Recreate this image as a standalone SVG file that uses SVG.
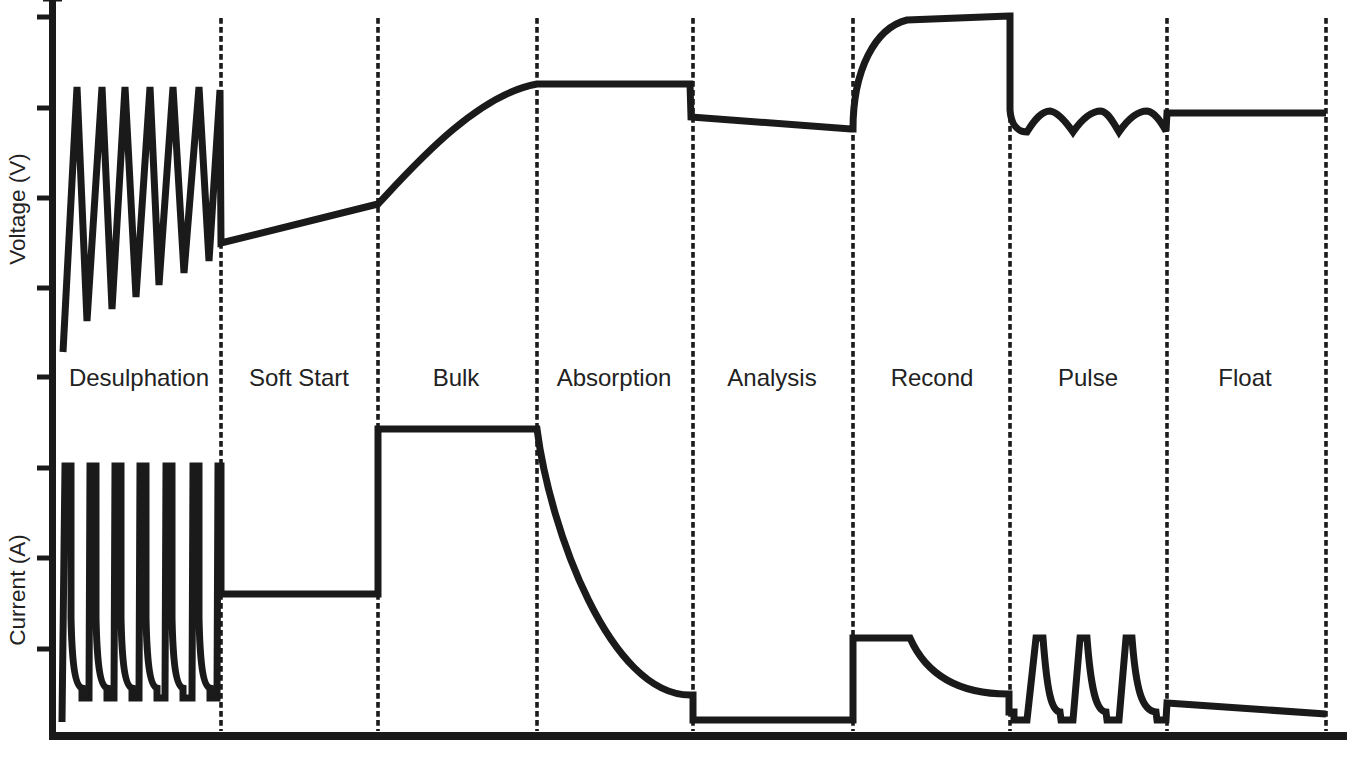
<svg xmlns="http://www.w3.org/2000/svg" width="1347" height="759" viewBox="0 0 1347 759">
<style>
.axis{stroke:#1a1a1a;fill:none}
.tick{stroke:#1a1a1a;stroke-width:5}
.div{stroke:#1a1a1a;stroke-width:3.6;stroke-dasharray:5.7 3.3;fill:none}
.curve{stroke:#1a1a1a;stroke-width:7;fill:none;stroke-linejoin:miter;stroke-miterlimit:2}
.lbl{font-family:"Liberation Sans",Arial,sans-serif;font-size:24px;fill:#222;text-anchor:middle}
.ylbl{font-family:"Liberation Sans",Arial,sans-serif;font-size:22.5px;fill:#222;text-anchor:middle}
</style>
<rect width="1347" height="759" fill="#ffffff"/>
<g id="dividers">
<line class="div" x1="221" y1="18" x2="221" y2="731"/>
<line class="div" x1="378" y1="18" x2="378" y2="731"/>
<line class="div" x1="537" y1="18" x2="537" y2="731"/>
<line class="div" x1="693" y1="18" x2="693" y2="731"/>
<line class="div" x1="853" y1="18" x2="853" y2="731"/>
<line class="div" x1="1010" y1="18" x2="1010" y2="731"/>
<line class="div" x1="1167" y1="18" x2="1167" y2="731"/>
<line class="div" x1="1326" y1="18" x2="1326" y2="731"/>
</g>
<g id="axes">
<line class="axis" x1="52.5" y1="0" x2="52.5" y2="740" stroke-width="7"/>
<line class="axis" x1="49" y1="736" x2="1347" y2="736" stroke-width="8"/>
<line class="axis" x1="43" y1="0.5" x2="62" y2="0.5" stroke-width="2"/>
<line class="tick" x1="37" y1="17" x2="53" y2="17"/>
<line class="tick" x1="37" y1="108" x2="53" y2="108"/>
<line class="tick" x1="37" y1="198" x2="53" y2="198"/>
<line class="tick" x1="37" y1="288" x2="53" y2="288"/>
<line class="tick" x1="37" y1="377" x2="53" y2="377"/>
<line class="tick" x1="37" y1="468" x2="53" y2="468"/>
<line class="tick" x1="37" y1="558" x2="53" y2="558"/>
<line class="tick" x1="37" y1="649" x2="53" y2="649"/>
<text class="ylbl" transform="translate(25,209) rotate(-90)">Voltage (V)</text>
<text class="ylbl" transform="translate(25,590) rotate(-90)">Current (A)</text>
</g>
<g id="connectors">
<path id="voltage" class="curve" d="M63,352 L77,87 L87,321 L102,87 L112,309 L125,87 L136,297 L150,87 L159,285 L173,87 L184,273 L199,87 L209,261 L220,90 L221,243 L378,204 C410,170 475,95 537,84 L690,84 L691,117 L851,129 L853,129 C853,70 875,28 907,20 L1009,16 L1010,16 L1010,110 C1011,125 1018,132 1027,132 C1035,119 1042,111 1050,111 C1058,112 1066,122 1073,132 C1082,119 1092,111 1101,111 C1108,112 1113,122 1119,132 C1128,119 1138,111 1147,111 C1155,112 1161,122 1166,131 L1167,113 L1326,113"/>
<path id="current" class="curve" d="M62,722 L65,466 L71,466 L71,618 C72,662 75,686 82,688 L82,698 L89,698 L90,466 L96,466 L96,618 C97,662 100,686 107,688 L107,698 L114,698 L115,466 L121,466 L121,618 C122,662 125,686 132,688 L132,698 L139,698 L140,466 L146,466 L146,618 C147,662 150,686 157,688 L157,698 L165,698 L166,466 L172,466 L172,618 C173,662 176,686 183,688 L183,698 L192,698 L193,466 L199,466 L199,618 C200,662 203,686 210,688 L210,698 L217,698 L218,466 L221,466 L221,594 L378,594 L378,429 L537,429 C550,530 610,695 690,695 L693,695 L693,720 L853,720 L853,638 L910,638 C925,672 955,694 1008,694 L1009,694 L1009,712 L1014,712 L1014,720 L1027,720 L1036,638 L1043,638 C1047,690 1051,711 1060,712 L1061,720 L1073,720 L1080,638 L1087,638 C1091,690 1096,711 1106,712 L1107,720 L1119,720 L1126,638 L1132,638 C1136,690 1142,711 1156,712 L1157,720 L1166,720 L1167,703 L1326,714"/>
</g>
<g id="labels">
<g id="n-desulphation"><text class="lbl" x="139" y="386">Desulphation</text></g>
<g id="n-softstart"><text class="lbl" x="299" y="386">Soft Start</text></g>
<g id="n-bulk"><text class="lbl" x="456" y="386">Bulk</text></g>
<g id="n-absorption"><text class="lbl" x="614" y="386">Absorption</text></g>
<g id="n-analysis"><text class="lbl" x="772" y="386">Analysis</text></g>
<g id="n-recond"><text class="lbl" x="932" y="386">Recond</text></g>
<g id="n-pulse"><text class="lbl" x="1088" y="386">Pulse</text></g>
<g id="n-float"><text class="lbl" x="1245" y="386">Float</text></g>
</g>
</svg>
